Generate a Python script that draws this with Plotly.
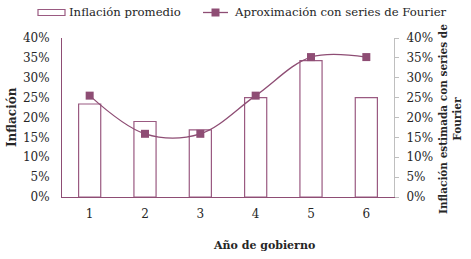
import plotly.graph_objects as go

years = [1, 2, 3, 4, 5, 6]
year_labels = ["1", "2", "3", "4", "5", "6"]
inflacion_promedio = [23.4, 19.0, 16.9, 25.0, 34.3, 25.0]
aprox_fourier = [25.5, 15.9, 15.9, 25.5, 35.2, 35.2]
y_ticks = [0, 5, 10, 15, 20, 25, 30, 35, 40]
y_tick_labels = ["0%", "5%", "10%", "15%", "20%", "25%", "30%", "35%", "40%"]

FONT = "DejaVu Serif"
PURPLE = "#8E4D74"
BAR_EDGE = "#9A5A81"
TXT = "#262626"

W, H = 471, 259
PL, PR, PT, PB = 62, 394, 38, 197  # plot area in pixels
L, R, T, B = PL, W - PR, PT, H - PB


def px(x):
    return (x - PL) / (PR - PL)


def py(y):
    return (PB - y) / (PB - PT)


fig = go.Figure()
fig.add_trace(go.Bar(
    x=years, y=inflacion_promedio, name="Inflación promedio",
    width=0.4, marker=dict(color="white", line=dict(color=BAR_EDGE, width=1.2)),
))
fig.add_trace(go.Scatter(
    x=years, y=aprox_fourier, name="Aproximación con series de Fourier",
    mode="lines+markers", yaxis="y2",
    line=dict(color=PURPLE, width=1.3, shape="spline", smoothing=1),
    marker=dict(symbol="square", size=8, color=PURPLE),
))

shapes = [
    dict(type="rect", xref="paper", yref="paper", x0=px(38), x1=px(65), y0=py(15.5), y1=py(9.5),
         line=dict(color=BAR_EDGE, width=1.2), fillcolor="white"),
    dict(type="line", xref="paper", yref="paper", x0=px(203), x1=px(228), y0=py(12.5), y1=py(12.5),
         line=dict(color=PURPLE, width=1.3)),
    dict(type="rect", xref="paper", yref="paper", x0=px(211.5), x1=px(219.5), y0=py(16.5), y1=py(8.5),
         line=dict(color=PURPLE, width=0), fillcolor=PURPLE),
]

annotations = [
    dict(text="Inflación promedio", x=px(67), y=py(12.5), xref="paper", yref="paper",
         xanchor="left", yanchor="middle", showarrow=False, font=dict(size=11.7)),
    dict(text="Aproximación con series de Fourier", x=px(232), y=py(12.5), xref="paper", yref="paper",
         xanchor="left", yanchor="middle", showarrow=False, font=dict(size=11.7)),
    dict(text="<b>Año de gobierno</b>", x=px(264), y=py(245), xref="paper", yref="paper",
         xanchor="center", yanchor="middle", showarrow=False, font=dict(size=11)),
    dict(text="<b>Inflación</b>", x=px(12), y=py(117), xref="paper", yref="paper",
         xanchor="center", yanchor="middle", showarrow=False, textangle=-90, font=dict(size=12)),
    dict(text="<b>Inflación estimada con series de<br>Fourier</b>", x=px(450), y=py(119),
         xref="paper", yref="paper", xanchor="center", yanchor="middle", showarrow=False,
         textangle=-90, font=dict(size=10.5)),
]

fig.update_layout(
    width=W, height=H,
    margin=dict(l=L, r=R, t=T, b=B),
    paper_bgcolor="white", plot_bgcolor="white",
    font=dict(family=FONT, size=12, color=TXT),
    showlegend=False,
    xaxis=dict(range=[0.5, 6.5], tickvals=years, ticktext=year_labels,
               showline=True, linecolor=PURPLE, linewidth=1,
               ticks="outside", ticklen=6, tickcolor="rgba(0,0,0,0)",
               showgrid=False, zeroline=False, tickfont=dict(size=12)),
    yaxis=dict(range=[0, 40], tickvals=y_ticks, ticktext=y_tick_labels,
               showline=True, linecolor=PURPLE, linewidth=1,
               ticks="outside", ticklen=9, tickcolor="rgba(0,0,0,0)",
               showgrid=False, zeroline=False, tickfont=dict(size=12)),
    yaxis2=dict(range=[0, 40], tickvals=y_ticks, ticktext=y_tick_labels,
                overlaying="y", side="right",
                showline=True, linecolor="#BFBFBF", linewidth=1, ticks="outside",
                tickcolor="#BFBFBF", ticklen=4, ticklabelstandoff=5,
                showgrid=False, zeroline=False, tickfont=dict(size=12)),
    shapes=shapes,
    annotations=annotations,
)

fig.write_html("out.html", config={"displayModeBar": False},
               post_script="document.body.style.margin='0';")
